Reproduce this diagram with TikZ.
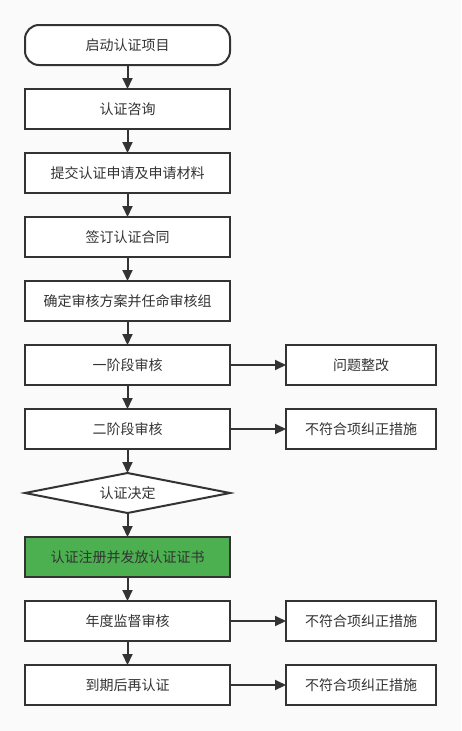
\documentclass[tikz,border=0pt]{standalone}
\usepackage{fontspec}
\setmainfont{Noto Sans CJK SC}
\usetikzlibrary{shapes.geometric, arrows.meta, positioning}
\definecolor{linegray}{HTML}{333333}
\definecolor{bggray}{HTML}{FAFAFA}
\definecolor{passgreen}{HTML}{4CAF50}

\begin{document}
\begin{tikzpicture}[x=1pt, y=-1pt,
    font=\fontsize{14}{16}\selectfont,
    box/.style={draw=linegray, line width=2pt, fill=white, text=linegray,
      minimum width=205pt, minimum height=40pt, inner sep=0pt, outer sep=0pt},
    sidebox/.style={box, minimum width=150pt},
    startbox/.style={box, rounded corners=14pt},
    decision/.style={diamond, draw=linegray, line width=2pt, fill=white, text=linegray,
      aspect=5.1, minimum width=205pt, minimum height=40pt, inner sep=0pt, outer sep=0pt},
    flow/.style={draw=linegray, line width=2pt, -{Triangle[length=11pt, width=10pt]}}
  ]
  % background and page size
  \fill[bggray] (0,0) rectangle (461,731);
  \useasboundingbox (0,0) rectangle (461,731);

  % main column
  \node[startbox] (start) at (127.5,45) {启动认证项目};
  \node[box, below=24pt of start] (consult) {认证咨询};
  \node[box, below=24pt of consult] (apply) {提交认证申请及申请材料};
  \node[box, below=24pt of apply] (contract) {签订认证合同};
  \node[box, below=24pt of contract] (plan) {确定审核方案并任命审核组};
  \node[box, below=24pt of plan] (stageone) {一阶段审核};
  \node[box, below=24pt of stageone] (stagetwo) {二阶段审核};
  \node[decision, below=24pt of stagetwo] (decide) {认证决定};
  \node[box, fill=passgreen, below=24pt of decide] (issue) {认证注册并发放认证证书};
  \node[box, below=24pt of issue] (annual) {年度监督审核};
  \node[box, below=24pt of annual] (renew) {到期后再认证};

  % side column
  \node[sidebox, right=56pt of stageone] (fixone) {问题整改};
  \node[sidebox, right=56pt of stagetwo] (fixtwo) {不符合项纠正措施};
  \node[sidebox, right=56pt of annual] (fixannual) {不符合项纠正措施};
  \node[sidebox, right=56pt of renew] (fixrenew) {不符合项纠正措施};

  % arrows
  \foreach \a/\b in {start/consult, consult/apply, apply/contract, contract/plan,
      plan/stageone, stageone/stagetwo, stagetwo/decide, decide/issue,
      issue/annual, annual/renew}
    \draw[flow] (\a) -- (\b);
  \foreach \a/\b in {stageone/fixone, stagetwo/fixtwo, annual/fixannual, renew/fixrenew}
    \draw[flow] (\a) -- (\b);
\end{tikzpicture}
\end{document}
